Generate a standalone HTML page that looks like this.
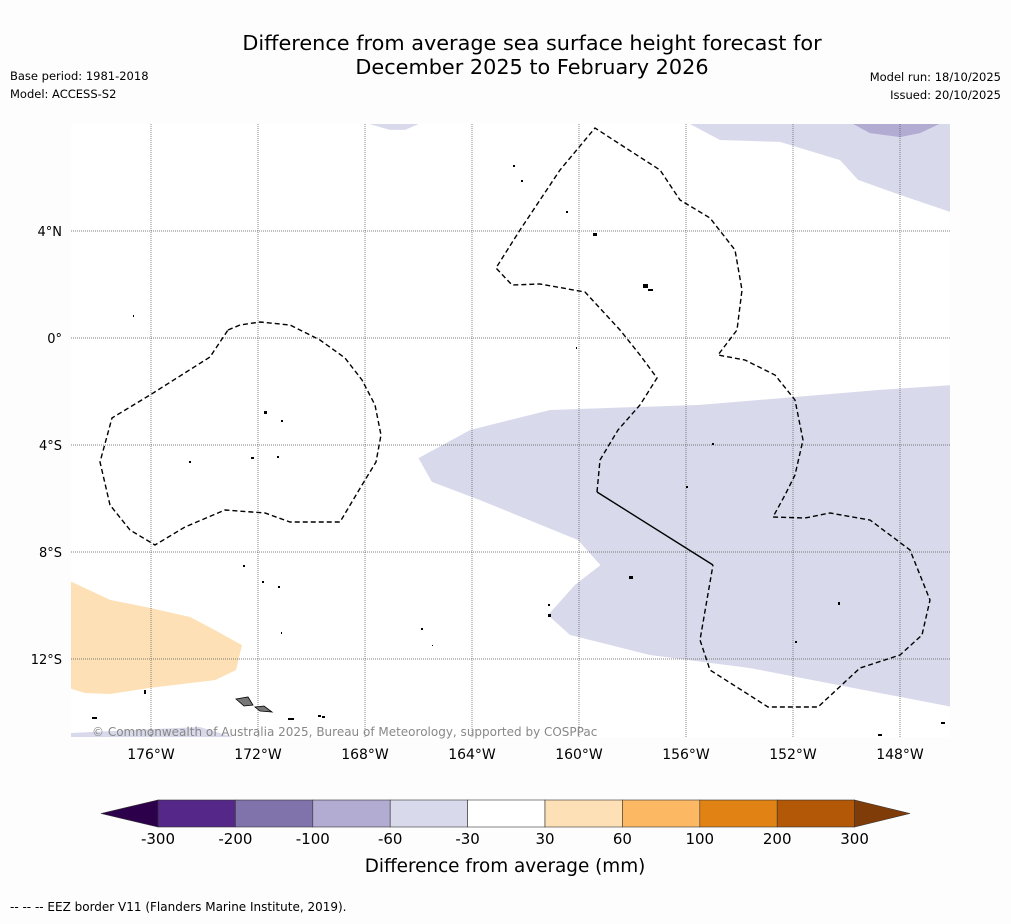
<!DOCTYPE html>
<html><head><meta charset="utf-8">
<style>
html,body{margin:0;padding:0;background:#fdfdfd;}
body{width:1011px;height:919px;position:relative;overflow:hidden;font-family:"Liberation Sans","DejaVu Sans",sans-serif;}
</style></head>
<body>
<svg id="chart" width="1011" height="919" viewBox="0 0 1011 919" xmlns="http://www.w3.org/2000/svg" font-family="'DejaVu Sans','Liberation Sans',sans-serif">
<text x="532" y="50" text-anchor="middle" font-size="20.8" fill="#000">Difference from average sea surface height forecast for</text>
<text x="532" y="74" text-anchor="middle" font-size="20.8" fill="#000">December 2025 to February 2026</text>
<text x="10" y="80" font-size="11.5">Base period: 1981-2018</text>
<text x="10" y="98" font-size="11.5">Model: ACCESS-S2</text>
<text x="1001" y="81" font-size="11.5" text-anchor="end">Model run: 18/10/2025</text>
<text x="1001" y="99" font-size="11.5" text-anchor="end">Issued: 20/10/2025</text>
<defs><clipPath id="mapclip"><rect x="71" y="124" width="879" height="613"/></clipPath></defs>
<rect x="71" y="124" width="879" height="613" fill="#fff"/>
<g id="regions" clip-path="url(#mapclip)"></g>
<g id="grid" clip-path="url(#mapclip)"></g>
<g fill="none" stroke="#000" stroke-width="1.4" clip-path="url(#mapclip)">
<path stroke-dasharray="5,3" d="M228,330 L240,325 260,322 290,325 320,340 345,358 362,380 375,405 381,435 376,462 362,485 340,522 290,522 265,513 225,510 185,527 155,545 130,530 110,505 100,462 112,418 150,395 210,357 Z"/>
<path stroke-dasharray="5,3" d="M597,492 L600,460 618,430 640,405 657,378 640,355 620,330 585,292 540,284 512,285 496,268 520,230 560,170 595,128 632,152 660,170 680,200 710,218 735,250 742,290 737,330 718,355 745,360 775,375 795,400 803,440 795,475 785,495 773,517 805,518 830,513 870,520 910,550 930,600 922,635 900,655 860,668 818,707 768,707 710,670 700,640 713,565"/>
<path d="M597,492 L713,565"/>
</g>
<g fill="#000">
<path d="M236,699 L248,697 253,705 244,706 Z" fill="#777" stroke="#000" stroke-width="0.8"/>
<path d="M255,707 L264,706 272,712 260,711 Z" fill="#777" stroke="#000" stroke-width="0.8"/>
<rect x="144" y="690" width="2" height="4"/><rect x="92" y="717" width="5" height="2"/>
<rect x="288" y="718" width="6" height="2"/><rect x="318" y="715" width="3" height="2"/><rect x="322" y="716" width="3" height="2"/>
<rect x="264" y="411" width="3" height="3"/><rect x="281" y="420" width="2" height="2"/><rect x="251" y="457" width="3" height="2"/>
<rect x="189" y="461" width="2" height="2"/><rect x="277" y="456" width="2" height="2"/><rect x="133" y="315" width="1" height="2"/>
<rect x="513" y="165" width="2" height="2"/><rect x="521" y="180" width="2" height="2"/><rect x="566" y="211" width="2" height="2"/>
<rect x="593" y="233" width="4" height="3"/><rect x="643" y="284" width="5" height="4"/><rect x="648" y="289" width="5" height="2"/>
<rect x="576" y="347" width="1" height="2"/><rect x="712" y="443" width="2" height="2"/><rect x="686" y="486" width="2" height="2"/>
<rect x="629" y="576" width="4" height="3"/><rect x="548" y="604" width="2" height="2"/><rect x="548" y="614" width="3" height="3"/>
<rect x="421" y="628" width="2" height="2"/><rect x="243" y="565" width="2" height="2"/><rect x="262" y="581" width="2" height="2"/>
<rect x="278" y="586" width="2" height="2"/><rect x="281" y="632" width="1" height="2"/><rect x="432" y="645" width="1" height="1"/>
<rect x="838" y="602" width="2" height="3"/><rect x="795" y="641" width="2" height="2"/><rect x="878" y="734" width="4" height="2"/><rect x="941" y="722" width="4" height="2"/>
</g>
<text x="92" y="736" font-size="12" fill="#888">© Commonwealth of Australia 2025, Bureau of Meteorology, supported by COSPPac</text>
<g id="ticks"></g>
<g id="colorbar"></g>
<text x="505" y="872" text-anchor="middle" font-size="18.4">Difference from average (mm)</text>
<text x="10" y="911" font-size="12">--  --  -- EEZ border V11 (Flanders Marine Institute, 2019).</text>
</svg>
<script>
const NS='http://www.w3.org/2000/svg';
// data arrays
const lonTicks=[-176,-172,-168,-164,-160,-156,-152,-148];
const lonTickLabels=['176°W','172°W','168°W','164°W','160°W','156°W','152°W','148°W'];
const latTicks=[4,0,-4,-8,-12];
const latTickLabels=['4°N','0°','4°S','8°S','12°S'];
const cbLevels=['-300','-200','-100','-60','-30','30','60','100','200','300'];
const cbColors=['#542788','#8073ac','#b2abd2','#d8daeb','#ffffff','#fee0b6','#fdb863','#e08214','#b35806'];
const regionBigLavender=[[-166.0,-4.49],[-165.5,-5.38],[-163.7,-6.06],[-160.04,-7.55],[-159.2,-8.49],[-160.15,-9.23],[-161.16,-10.36],[-160.34,-11.1],[-157.35,-11.85],[-153.6,-12.34],[-146.0,-13.8],[-146.0,-1.76],[-148.75,-1.94],[-155.48,-2.5],[-161.08,-2.69],[-164.07,-3.44]];
const regionTopRight=[[-156.04,8.1],[-154.73,7.4],[-152.49,7.33],[-150.24,6.65],[-149.57,5.91],[-148.0,5.35],[-146.0,4.67],[-146.0,8.1]];
const regionTopRightDark=[[-149.94,8.1],[-149.12,7.66],[-148.0,7.51],[-147.25,7.66],[-146.32,8.1]];
const regionTopSmall=[[-168.19,8.1],[-167.07,7.78],[-166.5,7.78],[-165.76,8.1]];
const regionBottomStrip=[[-179.1,-14.77],[-174.17,-14.54],[-172.67,-15.0],[-179.1,-15.0]];
const regionOrange=[[-179.1,-9.05],[-177.53,-9.79],[-176.04,-10.09],[-174.54,-10.43],[-173.61,-10.92],[-172.6,-11.48],[-172.82,-12.41],[-173.61,-12.79],[-176.04,-13.08],[-177.53,-13.31],[-178.47,-13.27],[-179.1,-13.08]];
const regions=[[regionBigLavender,'#d8daeb','region-lavender-south'],[regionTopRight,'#d8daeb','region-lavender-northeast'],[regionTopRightDark,'#b2abd2','region-purple-northeast'],[regionTopSmall,'#d8daeb','region-lavender-north'],[regionBottomStrip,'#d8daeb','region-lavender-bottom'],[regionOrange,'#fee0b6','region-orange-southwest']];
// axis functions
const X=lon=>151+(lon+176)*26.75;
const Y=lat=>338-lat*26.75;
const rg=document.getElementById('regions');
regions.forEach(r=>{const p=document.createElementNS(NS,'polygon');
p.setAttribute('points',r[0].map(d=>X(d[0])+','+Y(d[1])).join(' '));
p.setAttribute('fill',r[1]);


rg.appendChild(p);});
const g=document.getElementById('grid'),t=document.getElementById('ticks');
lonTicks.forEach((v,i)=>{const l=document.createElementNS(NS,'line');
l.setAttribute('x1',X(v));l.setAttribute('x2',X(v));l.setAttribute('y1',124);l.setAttribute('y2',737);
l.setAttribute('stroke','#555');l.setAttribute('stroke-width','0.7');l.setAttribute('stroke-dasharray','1,1');


g.appendChild(l);
const tx=document.createElementNS(NS,'text');tx.setAttribute('x',X(v));tx.setAttribute('y',759);tx.setAttribute('text-anchor','middle');tx.setAttribute('font-size','14');tx.textContent=lonTickLabels[i];


t.appendChild(tx);});
latTicks.forEach((v,i)=>{const l=document.createElementNS(NS,'line');
l.setAttribute('x1',71);l.setAttribute('x2',950);l.setAttribute('y1',Y(v));l.setAttribute('y2',Y(v));
l.setAttribute('stroke','#555');l.setAttribute('stroke-width','0.7');l.setAttribute('stroke-dasharray','1,1');


g.appendChild(l);
const tx=document.createElementNS(NS,'text');tx.setAttribute('x',62);tx.setAttribute('y',Y(v)+5);tx.setAttribute('text-anchor','end');tx.setAttribute('font-size','13');tx.textContent=latTickLabels[i];


t.appendChild(tx);});
// colorbar
const cb=document.getElementById('colorbar');
const cbX=i=>158+i*77.4;
cbColors.forEach((c,i)=>{const r=document.createElementNS(NS,'rect');
r.setAttribute('x',cbX(i));r.setAttribute('y',800);r.setAttribute('width',77.4);r.setAttribute('height',27);
r.setAttribute('fill',c);r.setAttribute('stroke','#333');r.setAttribute('stroke-width','0.6');


cb.appendChild(r);});
const lt=document.createElementNS(NS,'polygon');lt.setAttribute('points','101,813.5 158,800 158,827');lt.setAttribute('fill','#2d004b');lt.setAttribute('stroke','#333');lt.setAttribute('stroke-width','0.6');


cb.appendChild(lt);
const rt=document.createElementNS(NS,'polygon');rt.setAttribute('points',cbX(9)+',800 910,813.5 '+cbX(9)+',827');rt.setAttribute('fill','#7f3b08');rt.setAttribute('stroke','#333');rt.setAttribute('stroke-width','0.6');


cb.appendChild(rt);
cbLevels.forEach((v,i)=>{const tx=document.createElementNS(NS,'text');tx.setAttribute('x',cbX(i));tx.setAttribute('y',844);tx.setAttribute('text-anchor','middle');tx.setAttribute('font-size','15');tx.textContent=v;


cb.appendChild(tx);});
</script>
</body></html>
